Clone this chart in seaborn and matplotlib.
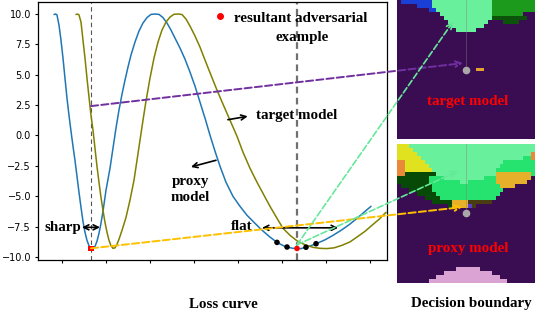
import matplotlib
matplotlib.use("Agg")
import numpy as np
import matplotlib.pyplot as plt
from matplotlib.colors import ListedColormap
from matplotlib.patches import ConnectionPatch
from matplotlib.lines import Line2D
import seaborn as sns

# Loss curves (x in tick units, loss)
proxy_x = [-0.182, -0.148, -0.114, -0.068, -0.023, 0.023, 0.068, 0.114, 0.159, 0.205,
           0.25, 0.295, 0.341, 0.386, 0.432, 0.477, 0.523, 0.568, 0.614, 0.659,
           0.705, 0.75, 0.795, 0.841, 0.886, 0.932, 1.0, 1.091, 1.159, 1.227,
           1.295, 1.364, 1.432, 1.5, 1.568, 1.659, 1.75, 1.841, 1.932, 2.023,
           2.114, 2.205, 2.295, 2.386, 2.477, 2.568, 2.682, 2.795, 2.909, 3.023,
           3.136, 3.25, 3.364, 3.477, 3.591, 3.727, 3.886, 4.045, 4.205, 4.364,
           4.523, 4.705, 4.886, 5.068, 5.25, 5.432, 5.614, 5.795, 5.977, 6.159,
           6.341, 6.523, 6.705, 6.864, 7.023]
proxy_loss = [9.96, 10.0, 9.93, 9.09, 7.86, 6.37, 4.72, 3.07, 1.67, 0.35,
              -0.88, -2.04, -3.36, -4.67, -5.91, -7.07, -7.97, -8.63, -9.08, -9.29,
              -9.31, -9.13, -8.71, -8.05, -7.23, -6.24, -4.51, -2.70, -1.05, 0.60,
              2.09, 3.40, 4.56, 5.63, 6.62, 7.69, 8.60, 9.26, 9.71, 9.97,
              10.0, 9.97, 9.71, 9.26, 8.68, 8.02, 7.20, 6.29, 5.22, 4.06,
              2.75, 1.43, 0.02, -1.29, -2.53, -3.85, -5.01, -5.83, -6.57, -7.15,
              -7.72, -8.30, -8.80, -9.14, -9.29, -9.31, -9.13, -8.88, -8.59, -8.22,
              -7.81, -7.35, -6.82, -6.32, -5.83]
target_x = [0.318, 0.352, 0.386, 0.432, 0.477, 0.523, 0.568, 0.614, 0.659, 0.705,
            0.75, 0.795, 0.841, 0.886, 0.932, 0.977, 1.023, 1.068, 1.114, 1.159,
            1.205, 1.25, 1.295, 1.364, 1.455, 1.545, 1.636, 1.705, 1.773, 1.841,
            1.909, 2.0, 2.091, 2.182, 2.273, 2.364, 2.455, 2.545, 2.636, 2.727,
            2.818, 2.909, 3.023, 3.136, 3.25, 3.386, 3.523, 3.659, 3.818, 3.977,
            4.114, 4.273, 4.432, 4.591, 4.727, 4.886, 5.023, 5.182, 5.341, 5.523,
            5.705, 5.864, 6.023, 6.182, 6.364, 6.545, 6.727, 6.886, 7.045, 7.205,
            7.364]
target_loss = [9.96, 10.0, 9.93, 9.34, 7.86, 6.37, 4.72, 3.16, 1.67, 0.44,
               -1.05, -2.53, -3.85, -5.09, -6.16, -7.15, -7.97, -8.63, -9.08, -9.29,
               -9.25, -8.96, -8.55, -7.81, -6.74, -5.33, -3.69, -2.04, -0.39, 1.26,
               2.83, 4.72, 6.37, 7.69, 8.68, 9.34, 9.75, 9.98, 10.0, 9.96,
               9.59, 9.01, 8.19, 7.28, 6.21, 4.97, 3.73, 2.58, 1.26, -0.06,
               -1.38, -2.70, -3.85, -4.92, -5.83, -6.82, -7.64, -8.22, -8.67, -9.00,
               -9.21, -9.29, -9.31, -9.25, -9.04, -8.76, -8.30, -7.89, -7.39, -6.90,
               -6.32]

y_ticks = [-10.0, -7.5, -5.0, -2.5, 0.0, 2.5, 5.0, 7.5, 10.0]
x_ticks = [0, 1, 2, 3, 4, 5, 6, 7]

sharp_x, sharp_loss = 0.659, -9.29
flat_x, flat_loss = 5.341, -9.30
neighbour_x = [4.886, 5.114, 5.545, 5.773]
neighbour_loss = [-8.80, -9.18, -9.20, -8.91]
purple_start = (0.659, 2.42)
green_start = (5.341, -9.0)

# Decision boundary maps: 35x35 cells, rows as run lengths
region_colors = {
    'p': '#3a0c52', 'b': '#1a3fd6', 'm': '#68f09c', 'g': '#1b9a1b',
    'd': '#0b520b', 'o': '#e8a030', 'y': '#e0e21f', 'r': '#e98a3a',
    'e': '#25e36e', 'k': '#074a08', 'a': '#e6b02b', 'n': '#4a3c12',
    'v': '#5a3fd1', 'q': '#dba3d3',
}
target_map = (["p1 b8 m15 g11", "p5 b4 m15 g11", "p8 b2 m14 g11", "p11 m13 g8 p3",
               "p12 m12 d9 p2", "p13 m10 p4 d4 p4", "p14 m8 p13", "p15 m5 p15"]
              + ["p35"] * 9 + ["p20 o2 p13"] + ["p35"] * 17)
proxy_map = (["y3 m32", "y4 m31", "y5 m29 r1", "y6 m26 e2 r1", "r2 y5 m20 e8",
              "r2 y6 m18 e9", "r2 y7 m16 e10", "r2 k8 m15 a9 e1",
              "k8 e4 m10 e3 a9 p1", "k8 e8 m2 e7 a8 p2", "p1 k8 e17 a4 p5",
              "p3 k6 e18 p8", "p5 k5 e16 p9", "p7 k4 e14 p10",
              "p9 k5 a4 n6 p11", "p13 k1 a4 v1 n1 p15"]
             + ["p35"] * 15
             + ["p15 q6 p14", "p12 q12 p11", "p10 q16 p9", "p8 q20 p7"])
probe_x = 17.5
target_probe_y = 17.6
proxy_probe_y = 17.4
purple_tip = (16.7, 15.9)
orange_tip = (16.5, 15.9)
green_tip_target = (14.2, 5.5)
green_tip_proxy = (15.5, 6.8)


def decode(rows):
    keys = list(region_colors)
    grid = []
    for row in rows:
        line = ''.join(tok[0] * int(tok[1:]) for tok in row.split())
        grid.append([keys.index(c) for c in line])
    return np.array(grid)


sns.set_style('ticks')
plt.rcParams['font.family'] = ['DejaVu Sans']
plt.rcParams['text.color'] = 'black'
bold = dict(family=['Liberation Serif', 'DejaVu Serif'], weight='bold', size=10.8)

fig = plt.figure(figsize=(5.36, 3.12), dpi=100)
ax = fig.add_axes([38 / 536, 52 / 312, 349 / 536, 258 / 312])
pax_t = fig.add_axes([397 / 536, 173 / 312, 138 / 536, 139 / 312])
pax_p = fig.add_axes([397 / 536, 29 / 312, 138 / 536, 139 / 312])

# loss curves
ax.axvline(sharp_x, color='#555555', ls=(0, (4, 3)), lw=0.8)
ax.axvline(flat_x, color='#707070', ls=(0, (3, 2)), lw=1.6)
sns.lineplot(x=proxy_x, y=proxy_loss, color='#1f77b4', linewidth=1.1, ax=ax)
sns.lineplot(x=target_x, y=target_loss, color='#808000', linewidth=1.1, ax=ax)
sns.scatterplot(x=neighbour_x, y=neighbour_loss, color='black', s=16,
                edgecolor='none', ax=ax, zorder=4)
sns.scatterplot(x=[flat_x], y=[flat_loss], color='red', s=16, edgecolor='none',
                ax=ax, zorder=5)
sns.scatterplot(x=[sharp_x], y=[sharp_loss], color='red', marker='s', s=14,
                edgecolor='none', ax=ax, zorder=5)

ax.set_xlim(-0.545, 7.386)
ax.set_ylim(-10.25, 10.99)
ax.set_xticks(x_ticks)
ax.set_xticklabels([])
ax.set_yticks(y_ticks)
ax.tick_params(labelsize=7, length=2.5, width=0.8, pad=2.5, colors='black')
for s in ax.spines.values():
    s.set_color('black')
    s.set_linewidth(0.9)

# text annotations
arrow = dict(color='black', lw=1.2, shrinkA=0, shrinkB=0, mutation_scale=9)
ax.annotate('', xy=(0.864, -7.56), xytext=(0.455, -7.56),
            arrowprops=dict(arrowstyle='<->', **arrow))
ax.text(0.44, -7.56, 'sharp', ha='right', va='center', color='black', **bold)
ax.annotate('', xy=(6.273, -7.6), xytext=(4.545, -7.6),
            arrowprops=dict(arrowstyle='<->', **arrow))
ax.text(4.33, -7.5, 'flat', ha='right', va='center', color='black', **bold)
ax.annotate('', xy=(4.22, 1.58), xytext=(3.77, 1.30),
            arrowprops=dict(arrowstyle='->', **arrow))
ax.text(4.42, 1.67, 'target model', ha='left', va='center', color='black', **bold)
ax.annotate('', xy=(2.93, -2.59), xytext=(3.50, -2.04),
            arrowprops=dict(arrowstyle='->', **arrow))
ax.text(2.92, -4.43, 'proxy\nmodel', ha='center', va='center',
        linespacing=1.3, color='black', **bold)

leg_handle = Line2D([], [], marker='o', color='red', ls='', markersize=4)
leg = ax.legend(handles=[leg_handle], labels=['resultant adversarial'],
                loc='center left', bbox_to_anchor=(0.5, 0.938), frameon=False,
                handlelength=1.0, handletextpad=0.4, borderpad=0, borderaxespad=0,
                prop=dict(family='Liberation Serif', weight='bold', size=10.8))
for t in leg.get_texts():
    t.set_color('black')
ax.text(0.756, 0.864, 'example', transform=ax.transAxes, ha='center',
        va='center', color='black', **bold)

# decision boundary panels
cmap = ListedColormap(list(region_colors.values()))
n = len(region_colors)
for pax, rows, probe_y, label in [(pax_t, target_map, target_probe_y, 'target model'),
                                  (pax_p, proxy_map, proxy_probe_y, 'proxy model')]:
    sns.heatmap(decode(rows), cmap=cmap, vmin=-0.5, vmax=n - 0.5, cbar=False,
                xticklabels=False, yticklabels=False, ax=pax)
    pax.plot([probe_x, probe_x], [0, probe_y], color='gray', lw=0.5, alpha=0.6)
    pax.scatter([probe_x], [probe_y], s=20, color='#a8a8a8', zorder=3)
    pax.text(18.0, 25.6 if pax is pax_t else 26.2, label, color='red',
             ha='center', va='center', **bold)

# dashed arrows from the loss curve into the panels
links = [(purple_start, pax_t, purple_tip, '#7030a0', 1.4),
         ((sharp_x, sharp_loss), pax_p, orange_tip, '#ffc000', 1.4),
         (green_start, pax_t, green_tip_target, '#66e89a', 1.2),
         (green_start, pax_p, green_tip_proxy, '#66e89a', 1.2)]
for start, pax, tip, color, lw in links:
    con = ConnectionPatch(xyA=start, coordsA=ax.transData, xyB=tip,
                          coordsB=pax.transData, arrowstyle='->', color=color,
                          lw=lw, linestyle='--', mutation_scale=10,
                          shrinkA=0, shrinkB=0)
    fig.add_artist(con)

fig.text(223 / 536, 1 - 305 / 312, 'Loss curve', ha='center', va='center',
         color='black', **bold)
fig.text(471 / 536, 1 - 303 / 312, 'Decision boundary', ha='center', va='center',
         color='black', **bold)

fig.savefig('out.png', dpi=100)
